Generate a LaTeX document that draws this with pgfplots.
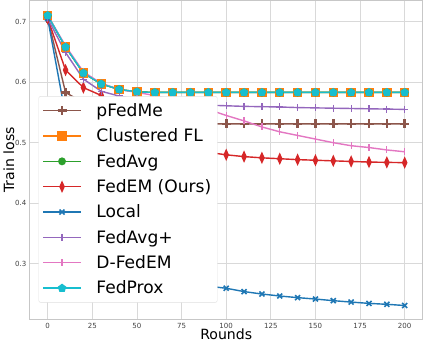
\documentclass[border=0pt]{standalone}
\usepackage{fontspec}
\setmainfont{DejaVu Sans}
\usepackage{pgfplots}
\pgfplotsset{compat=1.18}

\definecolor{tbrown}{HTML}{8C564B}
\definecolor{torange}{HTML}{FF7F0E}
\definecolor{tgreen}{HTML}{2CA02C}
\definecolor{tred}{HTML}{D62728}
\definecolor{tblue}{HTML}{1F77B4}
\definecolor{tpurple}{HTML}{9467BD}
\definecolor{tpink}{HTML}{E377C2}
\definecolor{tcyan}{HTML}{17BECF}

\pgfplotstableread{
r    pfedme cfl   fedavg fedem  local  favgp  dfedem fedprox
0    0.705  0.710 0.710  0.705  0.705  0.705  0.710  0.710
10   0.583  0.658 0.658  0.620  0.545  0.649  0.660  0.658
20   0.566  0.615 0.615  0.591  0.419  0.605  0.617  0.615
30   0.550  0.597 0.597  0.578  0.358  0.585  0.598  0.597
40   0.536  0.588 0.588  0.556  0.322  0.577  0.588  0.588
50   0.534  0.584 0.584  0.535  0.305  0.572  0.583  0.584
60   0.532  0.583 0.583  0.510  0.2895 0.568  0.578  0.583
70   0.531  0.583 0.583  0.497  0.278  0.566  0.571  0.583
80   0.531  0.583 0.583  0.490  0.2705 0.564  0.563  0.583
90   0.531  0.583 0.583  0.484  0.263  0.562  0.555  0.583
100  0.531  0.583 0.583  0.480  0.2595 0.561  0.545  0.583
110  0.531  0.583 0.583  0.477  0.254  0.560  0.536  0.583
120  0.531  0.583 0.583  0.475  0.250  0.5595 0.526  0.583
130  0.531  0.583 0.583  0.4735 0.2467 0.559  0.518  0.583
140  0.531  0.583 0.583  0.472  0.244  0.558  0.512  0.583
150  0.531  0.583 0.583  0.471  0.2417 0.5575 0.506  0.583
160  0.531  0.583 0.583  0.470  0.239  0.557  0.500  0.583
170  0.531  0.583 0.583  0.469  0.2367 0.5565 0.495  0.583
180  0.531  0.583 0.583  0.468  0.2345 0.556  0.492  0.583
190  0.531  0.583 0.583  0.4675 0.233  0.5555 0.488  0.583
200  0.531  0.583 0.583  0.467  0.231  0.555  0.485  0.583
}\losses

\begin{document}
\begin{tikzpicture}
\begin{axis}[
    scale only axis,
    width=389bp, height=316bp,
    xmin=-10, xmax=210,
    ymin=0.208, ymax=0.735,
    xtick={0,25,...,200},
    ytick={0.3,0.4,0.5,0.6,0.7},
    yticklabel style={/pgf/number format/fixed, /pgf/number format/precision=1},
    /pgf/number format/assume math mode=true,
    tick label style={font=\fontsize{7}{8}\selectfont, text=black!75},
    major tick length=0pt,
    axis line style={black!22, line width=0.9pt},
    grid=major,
    grid style={black!15, line width=0.8pt},
    xlabel={Rounds},
    ylabel={Train loss},
    label style={font=\fontsize{14}{16}\selectfont},
    xlabel style={yshift=6pt},
    ylabel style={yshift=-6pt},
    every axis plot/.append style={line width=1.4pt},
    legend cell align=left,
    legend style={at={(0.022,0.70)}, anchor=north west,
        font=\fontsize{17}{20}\selectfont,
        fill=white, draw=black!12, rounded corners=2pt,
        row sep=6.8pt, inner xsep=4pt, inner ysep=5pt,
        /tikz/every odd column/.append style={column sep=13pt}},
    legend image code/.code={
        \draw[mark repeat=2, mark phase=2] plot coordinates {(0cm,0cm) (0.65cm,0cm) (1.3cm,0cm)};
    },
]
\addplot[tbrown, mark=+, mark size=4.5pt, mark options={line width=2.6pt}] table[x=r, y=pfedme] {\losses};
\addlegendentry{pFedMe}
\addplot[torange, mark=square*, mark size=4pt] table[x=r, y=cfl] {\losses};
\addlegendentry{Clustered FL}
\addplot[tgreen, mark=*, mark size=3.2pt] table[x=r, y=fedavg] {\losses};
\addlegendentry{FedAvg}
\addplot[tred, mark=diamond*, mark size=4.5pt, mark options={xscale=0.6}] table[x=r, y=fedem] {\losses};
\addlegendentry{FedEM (Ours)}
\addplot[tblue, mark=x, mark size=3.5pt, mark options={line width=1.6pt}] table[x=r, y=local] {\losses};
\addlegendentry{Local}
\addplot[tpurple, mark=+, mark size=3.5pt, mark options={line width=1.2pt}] table[x=r, y=favgp] {\losses};
\addlegendentry{FedAvg+}
\addplot[tpink, mark=|, mark size=3.5pt, mark options={line width=1.2pt}] table[x=r, y=dfedem] {\losses};
\addlegendentry{D-FedEM}
\addplot[tcyan, mark=pentagon*, mark size=3.6pt] table[x=r, y=fedprox] {\losses};
\addlegendentry{FedProx}
\end{axis}
\end{tikzpicture}
\end{document}
